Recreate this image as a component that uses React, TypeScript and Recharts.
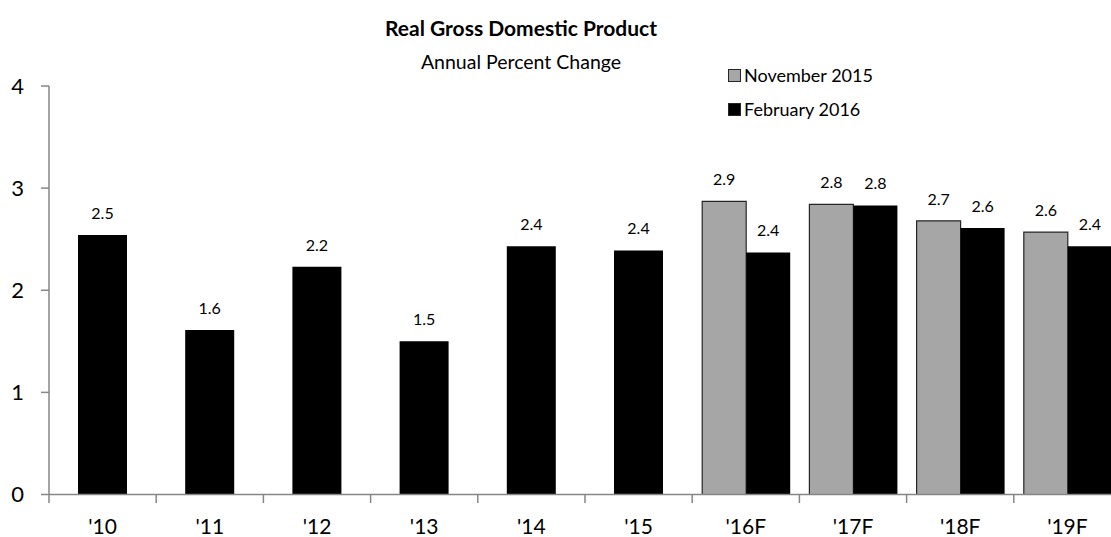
import React from "react";
import { BarChart, Bar, XAxis, YAxis, LabelList } from "recharts";

const years = ["'10", "'11", "'12", "'13", "'14", "'15", "'16F", "'17F", "'18F", "'19F"];
const feb2016 = [2.54, 1.61, 2.23, 1.5, 2.43, 2.39, 2.37, 2.83, 2.61, 2.43];
const nov2015: (number | null)[] = [null, null, null, null, null, null, 2.87, 2.84, 2.68, 2.57];
const yTicks = [0, 1, 2, 3, 4];
const seriesNames = ["November 2015", "February 2016"];

const data = years.map((year, i) => ({
  year,
  hist: nov2015[i] == null ? feb2016[i] : null,
  nov: nov2015[i],
  feb: nov2015[i] != null ? feb2016[i] : null,
}));

const FONT = "Lato, 'Open Sans', sans-serif";
const AXIS = "#868686";

const XTick = (props: any) => {
  const { x, y, payload } = props;
  const half = payload && payload.offset ? payload.offset : 53.6;
  return (
    <g>
      <line x1={x - half} x2={x - half} y1={y - 8} y2={y + 0.5} stroke={AXIS} strokeWidth={1.5} />
      <text x={x} y={y + 16.5} dy="0.71em" textAnchor="middle" fontSize={21} fontFamily={FONT} fill="#000">
        {payload.value}
      </text>
    </g>
  );
};

const fmt = (v: any) => (v == null ? "" : Number(v).toFixed(1));

export default function App() {
  return (
    <div style={{ position: "absolute", left: 0, top: 0, width: 1111, height: 537, overflow: "hidden", background: "#fff", fontFamily: FONT }}>
      <div style={{ position: "absolute", left: 0, width: 1042, top: 15, textAlign: "center", fontWeight: 700, fontSize: 21, color: "#000" }}>
        Real Gross Domestic Product
      </div>
      <div style={{ position: "absolute", left: 0, width: 1042, top: 50, textAlign: "center", fontSize: 19.5, color: "#000" }}>
        Annual Percent Change
      </div>
      {seriesNames.map((name, i) => (
        <div key={name} style={{ position: "absolute", left: 728, top: 64 + i * 34, display: "flex", alignItems: "center", fontSize: 18, color: "#000" }}>
          <span style={{ display: "inline-block", width: 11, height: 11, background: i === 0 ? "#a6a6a6" : "#000", border: "1px solid #262626", marginRight: 3 }} />
          {name}
        </div>
      ))}
      <BarChart
        width={1130}
        height={537}
        data={data}
        margin={{ top: 86, right: 9, bottom: 2.5, left: 0 }}
        barGap={0}
      >
        <XAxis
          xAxisId="main"
          dataKey="year"
          height={40}
          axisLine={{ stroke: AXIS, strokeWidth: 1.5 }}
          tickLine={false}
          tick={<XTick />}
          interval={0}
        />
        <XAxis xAxisId="h" dataKey="year" hide height={0} orientation="top" />
        <YAxis
          domain={[0, 4]}
          ticks={yTicks}
          width={49}
          axisLine={{ stroke: AXIS, strokeWidth: 1.5 }}
          tickLine={{ stroke: AXIS, strokeWidth: 1.5 }}
          tickSize={8}
          tickMargin={17}
          tick={{ fontSize: 22, fill: "#000", fontFamily: FONT }}
        />
        <Bar xAxisId="h" dataKey="hist" fill="#000" barSize={49} isAnimationActive={false}>
          <LabelList dataKey="hist" position="top" offset={16} formatter={fmt} style={{ fontSize: 16, fill: "#000", fontFamily: FONT }} />
        </Bar>
        <Bar xAxisId="main" dataKey="nov" fill="#a6a6a6" stroke="#262626" strokeWidth={1.2} barSize={44} isAnimationActive={false}>
          <LabelList dataKey="nov" position="top" offset={16} formatter={fmt} style={{ fontSize: 16, fill: "#000", fontFamily: FONT }} />
        </Bar>
        <Bar xAxisId="main" dataKey="feb" fill="#000" barSize={44} isAnimationActive={false}>
          <LabelList dataKey="feb" position="top" offset={16} formatter={fmt} style={{ fontSize: 16, fill: "#000", fontFamily: FONT }} />
        </Bar>
      </BarChart>
    </div>
  );
}
